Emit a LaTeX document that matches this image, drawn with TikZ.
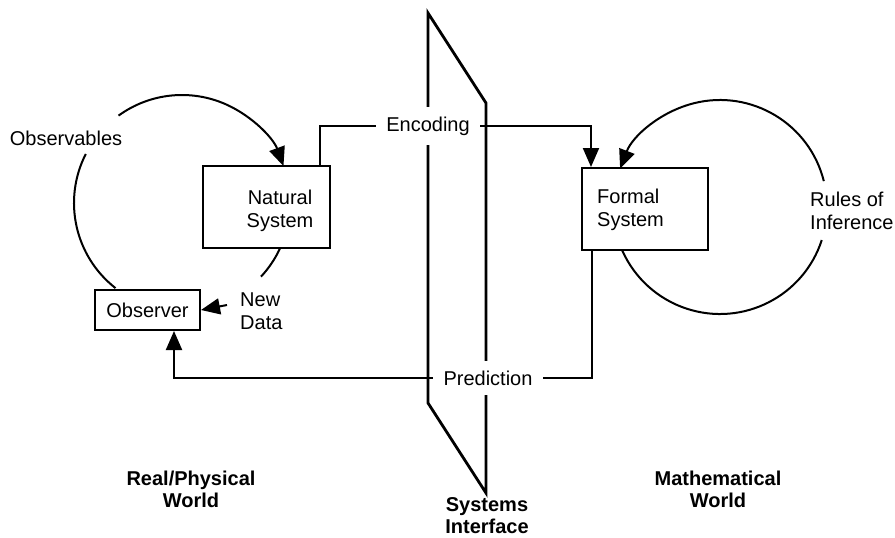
\documentclass[tikz,border=0pt]{standalone}
\usepackage{fontspec}
\setmainfont{Liberation Sans}
\usetikzlibrary{arrows.meta,calc}
\begin{document}
\begin{tikzpicture}[x=1pt,y=-1pt,
  lbl/.style={font=\fontsize{20}{23}\selectfont, inner sep=0pt},
  boldlbl/.style={font=\fontsize{20}{22}\selectfont\bfseries, align=center, inner sep=0pt},
  box/.style={draw, line width=2pt, inner sep=0pt},
  conn/.style={line width=2pt},
  tip/.style={-{Triangle[length=19pt,width=16pt]}},
  plane/.style={line width=2.8pt, line join=miter},
  gapnode/.style={fill=white, font=\fontsize{20}{23}\selectfont, inner xsep=10.5pt, inner ysep=10pt}
]
\fill[white] (0,0) rectangle (895,538);
\useasboundingbox (0,0) rectangle (895,538);

% systems interface plane
\coordinate (pA) at (428,13);
\coordinate (pB) at (486,103);
\coordinate (pC) at (486,493);
\coordinate (pD) at (428,403);
\draw[plane] (pA) -- (pB) -- (pC) -- (pD) -- cycle;

% boxes
\node[box, minimum width=127pt, minimum height=82pt] (nat) at (266.5,207) {};
\node[lbl, align=center] (natT) at (280,211) {Natural\\System};
\node[box, minimum width=105pt, minimum height=40pt, font=\fontsize{20}{23}\selectfont] (obs) at (147.5,310) {Observer};
\node[box, minimum width=126pt, minimum height=82pt] (form) at (645,209) {};
\node[lbl, align=left, anchor=west] (formT) at (597,210) {Formal\\System};

% labels
\node[lbl] (obsv) at (66,138) {Observables};
\node[lbl, align=left, anchor=west] (nd) at (240,311) {New\\Data};
\node[lbl, align=left, anchor=west] (rules) at (810,211) {Rules of\\Inference};
\node[gapnode] (enc) at (428,126) {Encoding};
\node[gapnode] (pred) at (488,378) {Prediction};

\node[boldlbl] (real) at (191,489) {Real/Physical\\World};
\node[boldlbl] (math) at (718,489) {Mathematical\\World};
\node[boldlbl] (sys) at (487,516) {Systems\\Interface};

% observation loop
\coordinate (oc) at (182,203);
\draw[conn, tip] ($(oc)+(-126:108)$) arc[start angle=-126, end angle=-20, radius=108];
\draw[conn] ($(oc)+(207:108)$) arc[start angle=207, end angle=128, radius=108];
\draw[conn] ($(oc)+(25:108)$) arc[start angle=25, end angle=43, radius=108];
\draw[conn, tip] ($(nd.west)+(-13,-6)$) -- (obs.east);

% inference loop
\coordinate (rc) at (720,207);
\draw[conn, tip] ($(rc)+(-14:107)$) arc[start angle=-14, end angle=-159, radius=107];
\draw[conn] ($(rc)+(18:107)$) arc[start angle=18, end angle=156, radius=107];

% encoding
\draw[conn] ($(nat.north east)+(-11,0)$) |- (enc.west);
\draw[conn, tip] (enc.east) -| ($(form.north west)+(10,0)$);

% prediction
\draw[conn] ($(form.south west)+(11,0)$) |- (pred.east);
\draw[conn, tip] (pred.west) -| ($(obs.south west)+(80,0)$);
\end{tikzpicture}
\end{document}
